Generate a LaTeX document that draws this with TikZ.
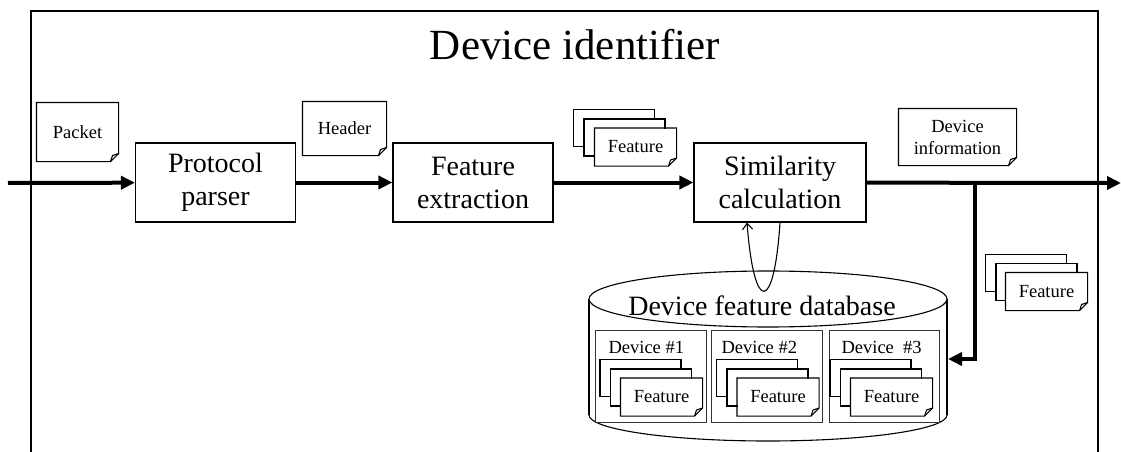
\documentclass[tikz,border=0pt]{standalone}
\usepackage{fontspec}
\setmainfont{Liberation Serif}[Ligatures=NoCommon]
\usetikzlibrary{arrows.meta}

% outline of a sheet with a turned-down corner
\newcommand{\dogear}[1]{%
\draw (#1.north west) -- (#1.north east) -- ([yshift=8pt]#1.south east) -- ([xshift=-8pt]#1.south east) -- (#1.south west) -- cycle;
\draw ([yshift=8pt]#1.south east) -- ([shift={(-6pt,6pt)}]#1.south east) -- ([xshift=-8pt]#1.south east);}

\begin{document}
\begin{tikzpicture}[x=1pt,y=-1pt,line width=1.1pt,
block/.style={draw,minimum width=160pt,minimum height=79pt,inner sep=0pt,align=center,font=\fontsize{28}{33}\selectfont},
paper/.style={fill=white,minimum width=81pt,minimum height=37pt,inner sep=0pt,align=center,font=\fontsize{18.5}{22}\selectfont},
sheet/.style={draw,fill=white,minimum width=81pt,minimum height=37pt,inner sep=0pt},
devbox/.style={draw=black!80,line width=0.9pt,minimum width=111pt,minimum height=92pt,inner sep=0pt},
lbl/.style={inner sep=0pt,anchor=west,font=\fontsize{18.5}{22}\selectfont},
flow/.style={line width=4pt,-{Triangle[length=14pt,width=13pt]}}]
\useasboundingbox (0,0) rectangle (1121,452);
\draw (31,452) -- (31,11) -- (1098,11) -- (1098,452);
\node[font=\fontsize{43}{48}\selectfont] (title) at (575,45) {Device identifier};

\node[block] (proto) at (215.5,182.5) {Protocol\\parser};
\node[block] (feat) at (473,182.5) {Feature\\extraction};
\node[block,minimum width=172pt] (sim) at (780,182.5) {Similarity\\calculation};

\node[paper,minimum height=58pt] (packet) at (77.5,132) {Packet};
\dogear{packet}
\node[paper,minimum width=83pt,minimum height=53pt] (header) at (344.5,128.5) {Header};
\dogear{header}
\node[paper,minimum width=117pt,minimum height=56pt] (devinfo) at (957.5,137) {Device\\information};
\dogear{devinfo}

\node[sheet] (fa1) at (614,128) {};
\node[sheet] (fa2) at (624.5,137.5) {};
\node[paper] (fa3) at (635.5,147) {Feature};
\dogear{fa3}

\node[sheet] (fb1) at (1026,273) {};
\node[sheet] (fb2) at (1036.5,282) {};
\node[paper] (fb3) at (1046.5,291.5) {Feature};
\dogear{fb3}

% database
\draw (768,415) ellipse [x radius=179, y radius=26];
\fill[white] (589,299) rectangle (947,415);
\draw (589,299) -- (589,415) (947,299) -- (947,415);
\draw[fill=white] (768,299) ellipse [x radius=179, y radius=28];
\node[font=\fontsize{28}{33}\selectfont,inner sep=0pt] (dbname) at (762,306) {Device feature database};

\node[devbox] (dev1) at (650.5,376) {};
\node[lbl] (lab1) at (608,347) {Device \#1};
\node[sheet] (d1a) at (640.5,378) {};
\node[sheet] (d1b) at (651,387.5) {};
\node[paper] (d1c) at (661.5,397) {Feature};
\dogear{d1c}

\node[devbox] (dev2) at (767,376) {};
\node[lbl] (lab2) at (721,347) {Device \#2};
\node[sheet] (d2a) at (757,378) {};
\node[sheet] (d2b) at (767.5,387.5) {};
\node[paper] (d2c) at (778,397) {Feature};
\dogear{d2c}

\node[devbox,minimum width=110pt] (dev3) at (884.5,376) {};
\node[lbl] (lab3) at (841,347) {Device~~\#3};
\node[sheet] (d3a) at (870.5,378) {};
\node[sheet] (d3b) at (881,387.5) {};
\node[paper] (d3c) at (891.5,397) {Feature};
\dogear{d3c}

% lookup loop
\draw[-{Straight Barb[length=6pt,width=10pt]}] (sim.south) .. controls (774,314) and (754,314) .. ([xshift=-33pt]sim.south);

% main data flow
\coordinate (src) at (8,183);
\coordinate (sink) at (1121,183);
\coordinate (split) at (975,183);
\coordinate (dbin) at (948,359);
\draw[flow] (src) -- (proto);
\draw[flow] (proto) -- (feat);
\draw[flow] (feat) -- (sim);
\draw[flow] (sim) -- (sink);
\draw[flow] (split) |- (dbin);
\end{tikzpicture}
\end{document}
